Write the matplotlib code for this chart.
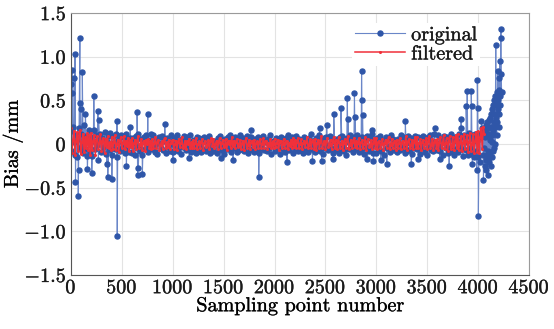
import numpy as np
import matplotlib
matplotlib.use("Agg")
import matplotlib.pyplot as plt
import matplotlib.patheffects as pe

# valores (centesimas de mm), una muestra cada 10 hasta 4060
orig_cent = [
    15, -8, 20, 2, -12, 10, -15, 6, 18, -5, 12, -2, -10, 22, -6, 9, -14, 4, 16, -9,
    8, -14, 3, 16, -6, 10, -1, -18, 5, 12, -9, 7, -3, 14, -11, 2, 9, -7, 13, -4,
    -12, 9, 1, -6, 11, -15, 4, 6, -8, 10, -4, 0, 8, -10, 12, -3, 5, -9, 7, -1,
    -10, 7, 2, -13, 9, -5, 11, -2, -8, 6, -12, 3, 8, -6, 10, -1, -9, 5, -4, 11,
    -6, 10, -2, -9, 5, -11, 1, 8, -4, 9, -7, 3, 6, -10, 7, -3, 4, -8, 10, 0,
    -9, 7, -1, -5, 10, -8, 4, -2, -11, 6, -3, 9, 2, -7, 8, -5, 1, 10, -9, 4,
    -7, 5, 0, -10, 8, -4, 7, -1, -9, 6, -6, 8, 3, -8, 5, -2, 9, -10, 4, -5,
    -8, 4, 1, -10, 7, -5, 9, -2, -7, 5, -11, 6, 0, -6, 8, -4, 10, -9, 3, -1,
    -5, 8, -1, -9, 6, -7, 10, 2, -4, 7, -8, 5, -2, 9, -10, 4, -6, 8, 1, -7,
    -9, 6, 0, -6, 8, -10, 5, -3, -5, 9, -7, 4, 2, -8, 6, -4, 10, -11, 3, -2,
    -8, 7, -1, -5, 6, -11, 8, 2, -6, 5, -9, 7, -3, 10, -7, 4, -1, 8, -10, 5,
    -4, 9, 1, -8, 6, -7, 5, -2, -10, 8, -5, 6, 0, -9, 7, -4, 11, -6, 3, -1,
    -9, 7, -2, -6, 10, -8, 5, 1, -11, 7, -4, 8, -1, -7, 9, -5, 3, -10, 6, 2,
    -7, 6, 0, -10, 8, -5, 9, -3, -8, 6, -12, 7, 2, -6, 10, -4, 5, -9, 8, -1,
    -6, 10, -2, -9, 5, -7, 8, 1, -11, 6, -5, 9, -3, -8, 7, -4, 11, -10, 4, 0,
    -10, 7, -1, -6, 9, -8, 5, 2, -12, 8, -4, 7, -2, -9, 10, -5, 6, -7, 3, 1,
    -9, 6, 0, -7, 10, -5, 8, -3, -10, 6, -8, 9, 1, -6, 7, -11, 5, -4, 9, -2,
    -6, 8, -1, -11, 7, -5, 9, 2, -9, 6, -12, 8, -3, 10, -7, 4, -8, 11, -5, 1,
    -7, 10, -2, -8, 6, -13, 9, 1, -5, 8, -10, 7, -4, 11, -9, 5, -12, 8, -6, 3,
    -9, 11, -3, -6, 8, -14, 10, 2, -7, 9, -12, 13, -5, 10, -11, 6, -15, 12, -8, 4,
    -15, 12, -20, 8, 18, -12, 15,
]
filt_cent = [
    18, -10, 5, 15, -12, 3, 14, -8, 10, 16, -11, 2, 12, -9, 8, -5, 13, -7, 10, -12,
    13, -7, 3, 10, -12, 5, 9, -6, 1, 11, -8, 4, 7, -10, 6, -3, 9, -5, 2, -7,
    8, -6, 2, 10, -7, 0, 5, -9, 3, 8, -5, 1, 9, -6, 4, -2, 7, -8, 5, -3,
    7, -8, 1, 5, -6, 3, 9, -4, -1, 6, -7, 2, 4, -8, 5, 0, 6, -5, 3, -6,
    6, -5, 1, 8, -4, 2, 5, -7, -1, 3, -6, 4, 7, -4, 2, -3, 5, -6, 1, 4,
    5, -6, 0, 4, -7, 2, 6, -3, 1, 8, -5, -2, 4, -6, 3, 0, 6, -4, 2, -5,
    5, -4, 1, 7, -6, 0, 3, -5, 2, 6, -7, 1, 4, -3, -1, 5, -6, 3, 7, -2,
    6, -5, 0, 4, -6, 2, 7, -4, 1, 5, -3, -1, 6, -7, 3, 0, 4, -5, 8, -2,
    4, -5, 2, 6, -3, 0, 5, -6, 1, 4, -7, 3, 7, -4, -1, 5, -6, 2, 4, -3,
    5, -6, 1, 3, -5, 2, 6, -4, 0, 7, -5, 3, 4, -6, 1, -2, 6, -4, 3, -5,
    6, -3, 1, 5, -7, 2, 4, -5, 0, 6, -4, 3, 3, -6, 1, -2, 5, -5, 7, -3,
    5, -5, 2, 7, -4, 0, 6, -6, 1, 4, -3, 2, 8, -5, -1, 6, -4, 3, 5, -6,
    6, -7, 1, 5, -4, 2, 9, -5, 0, 4, -6, 3, 7, -3, -1, 5, -6, 2, 8, -4,
    5, -6, 2, 8, -5, 0, 4, -7, 1, 6, -4, 3, 9, -6, -1, 5, -5, 2, 7, -3,
    4, -5, 1, 7, -6, 2, 5, -4, 0, 8, -7, 3, 6, -3, -2, 5, -6, 1, 7, -4,
    7, -6, 2, 4, -5, 0, 6, -7, 1, 5, -4, 3, 8, -6, -1, 6, -5, 2, 4, -7,
    5, -4, 1, 7, -6, 2, 4, -5, 0, 9, -7, 3, 6, -5, -1, 5, -6, 2, 8, -4,
    8, -5, 1, 6, -7, 2, 5, -4, 0, 7, -6, 3, 9, -5, -1, 6, -7, 2, 5, -4,
    6, -7, 2, 8, -5, 0, 10, -6, 1, 7, -8, 3, 9, -6, -2, 8, -7, 3, 10, -5,
    11, -7, 2, 9, -8, 1, 12, -6, 3, 10, -9, 2, 13, -8, 0, 11, -10, 4, 14, -9,
    15, -10, 8, 18, -6, 20, 12,
]

# puntos atipicos de la serie original
spike_x = [5, 12, 15, 32, 40, 45, 72, 75, 88, 92, 95, 112, 142, 162, 205, 225,
           265, 272, 355, 362, 402, 452, 455, 545, 582, 650, 655, 662, 702, 755,
           922, 1002, 1162, 1472, 1592, 1765, 1845, 2122, 2372, 2442, 2462, 2512,
           2572, 2582, 2652, 2715, 2722, 2785, 2792, 2855, 2858, 2865, 2912, 2962,
           2972, 3042, 3102, 3285, 3342, 3412, 3572, 3622, 3715, 3832, 3835, 3882,
           3892, 3932, 3935, 3942, 3985, 3992, 3995, 4002, 4032, 4052]
spike_y = [0.69, 0.85, 0.58, 0.76, 1.03, -0.43, -0.59, -0.30, 1.22, 0.47, 0.40,
           0.83, 0.35, -0.29, -0.33, 0.55, 0.38, 0.28, -0.23, -0.38, -0.40, 0.26,
           -1.05, -0.25, 0.20, 0.37, -0.35, -0.27, -0.34, 0.34, 0.23, -0.18, -0.16,
           -0.16, -0.18, 0.16, -0.38, -0.21, -0.19, 0.18, -0.19, 0.22, -0.17, 0.34,
           0.41, 0.53, 0.29, 0.59, 0.31, 0.84, 0.51, 0.33, -0.17, 0.16, -0.19,
           -0.18, -0.23, 0.26, -0.23, -0.17, 0.19, -0.17, -0.25, 0.29, 0.18, 0.44,
           0.61, 0.61, 0.44, -0.23, -0.30, 0.73, 0.41, -0.82, 0.26, -0.41]

# tramo final (4062-4230), cada 3 muestras
tail_cent = [-5, 15, -25, 8, -18, 22, -30, 10, -12, 25, -8, 18, -35, 12, -15, 28,
             -20, 5, 30, -10, 20, -25, 35, 2, -15, 40, 10, -8, 45, 15, 25, -5,
             50, 20, 35, 0, 55, 113, 30, 45, 10, 60, 25, 84, 40, 50, 20, 76, 35,
             62, 45, 95, 55, 122, 132, 80, 60]

orig_base_x = np.arange(0, 10 * len(orig_cent), 10)
filt_x = np.arange(0, 10 * len(filt_cent), 10)
tail_x = np.arange(4062, 4062 + 3 * len(tail_cent), 3)

ox = np.concatenate([orig_base_x, spike_x, tail_x])
oy = np.concatenate([np.array(orig_cent) / 100, spike_y, np.array(tail_cent) / 100])
order = np.argsort(ox, kind="stable")
ox, oy = ox[order], oy[order]

plt.rcParams["font.family"] = "serif"
plt.rcParams["font.serif"] = ["cmr10"]
plt.rcParams["mathtext.fontset"] = "cm"
plt.rcParams["axes.formatter.use_mathtext"] = True
plt.rcParams["text.color"] = "#1a1a1a"
plt.rcParams["xtick.color"] = "#1a1a1a"
plt.rcParams["ytick.color"] = "#1a1a1a"

fig = plt.figure(figsize=(5.54, 3.29), dpi=100)
ax = fig.add_axes([0.128, 0.164, 0.827, 0.796])

ax.plot(ox, oy, color="#6a86c8", lw=0.8, marker="o", ms=3.6,
        mfc="#2f56a8", mec="#2f56a8", label="original")
ax.plot(filt_x, np.array(filt_cent) / 100, color="#f0303a", lw=1.1,
        marker=".", ms=2.4, label="filtered")

ax.set_xlim(0, 4500)
ax.set_ylim(-1.5, 1.5)
ax.set_xticks(range(0, 4501, 500))
ax.set_yticks([-1.5, -1.0, -0.5, 0, 0.5, 1.0, 1.5])
ax.set_yticklabels([r"$-1.5$", r"$-1.0$", r"$-0.5$", r"$0$", r"$0.5$", r"$1.0$", r"$1.5$"])
ax.tick_params(labelsize=14.5, length=0, pad=3)
ax.grid(color="#e3e3e3", lw=0.8)
ax.set_axisbelow(True)
for s in ax.spines.values():
    s.set_color("#9a9a9a")
ax.spines["left"].set_color("#555555")
ax.spines["bottom"].set_color("#555555")

ax.set_xlabel("Sampling point number", fontsize=14.5, labelpad=0)
ax.set_ylabel("Bias /mm", fontsize=14.5, labelpad=1)

leg = ax.legend(loc="upper right", bbox_to_anchor=(0.915, 1.0), fontsize=14.5,
                frameon=True, framealpha=1, edgecolor="none", fancybox=False,
                handlelength=2.5, handletextpad=0.3, borderpad=0.15,
                labelspacing=0.05)

# trazo un poco mas grueso en los textos (la figura original es mas oscura)
thick = [pe.withStroke(linewidth=0.25, foreground="#1a1a1a")]
texts = (ax.get_xticklabels() + ax.get_yticklabels() + leg.get_texts()
         + [ax.xaxis.label, ax.yaxis.label])
for t in texts:
    t.set_path_effects(thick)

fig.savefig("out.png", dpi=100)
